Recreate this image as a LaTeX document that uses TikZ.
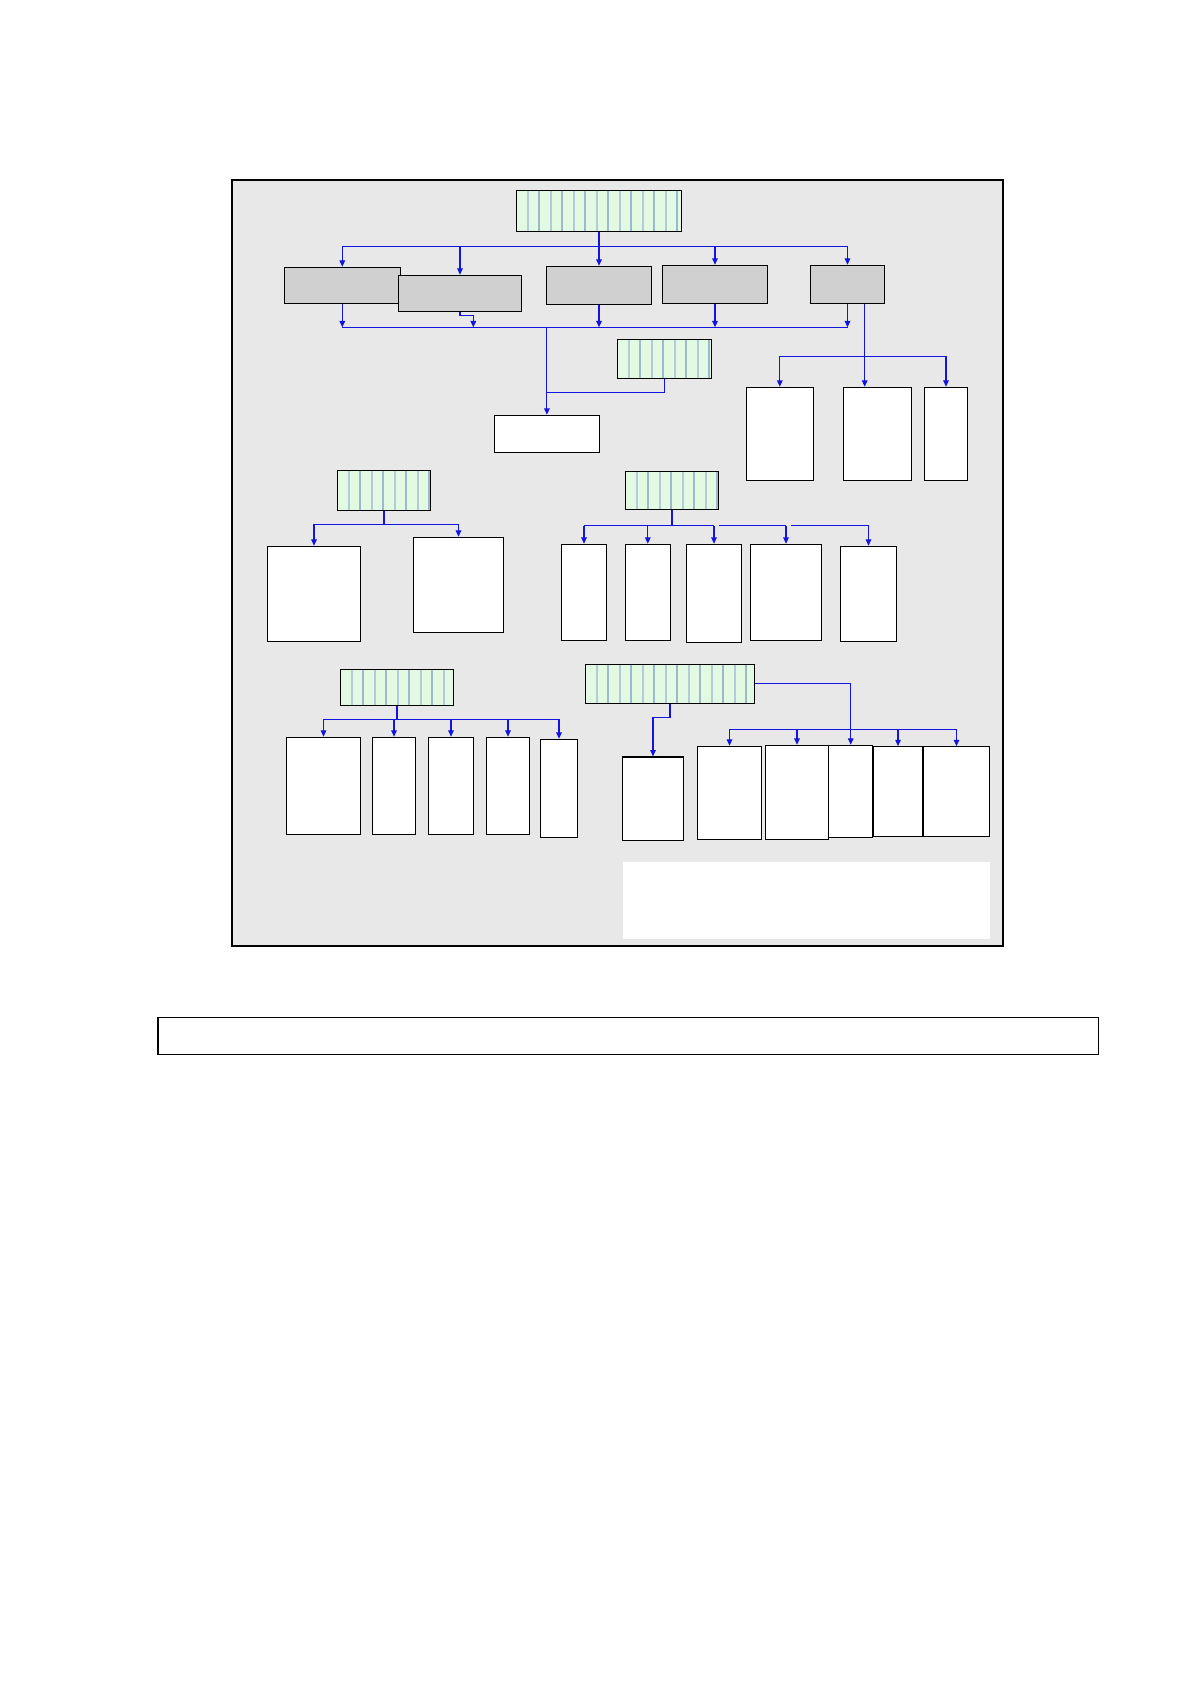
\documentclass[tikz,border=0pt]{standalone}
\usetikzlibrary{arrows.meta,fit,calc}
\definecolor{framebg}{RGB}{232,232,232}
\definecolor{greybx}{RGB}{208,208,208}
\definecolor{greenbx}{RGB}{226,250,226}
\definecolor{stripeA}{RGB}{180,202,218}
\definecolor{stripeB}{RGB}{158,184,208}
\definecolor{connblue}{RGB}{20,20,225}
\tikzset{
  bx/.style={draw=black, line width=0.55pt, inner sep=0pt, fill=white},
  greybox/.style={bx, fill=greybx},
  greenbox/.style={bx, fill=greenbx, path picture={
    \foreach \i in {1,3,...,31}
      \draw[stripeA, line width=0.8pt]
        ([xshift=\i*5.75pt]path picture bounding box.north west) --
        ([xshift=\i*5.75pt]path picture bounding box.south west);
    \foreach \i in {2,4,...,32}
      \draw[stripeB, line width=0.9pt]
        ([xshift=\i*5.75pt]path picture bounding box.north west) --
        ([xshift=\i*5.75pt]path picture bounding box.south west);
  }},
  framebox/.style={draw=black, line width=1.3pt, fill=framebg, inner sep=0pt},
  blank/.style={fill=white, inner sep=0pt},
  conn/.style={draw=connblue, line width=0.55pt},
  arr/.style={conn, -{Triangle[length=3.2pt,width=2.8pt]}},
}
\begin{document}
\begin{tikzpicture}[x=0.5pt,y=-0.5pt]
\useasboundingbox (0,0) rectangle (1191,1684);

% outer frame
\node[framebox, fit={(232,180)(1003,946)}] (frame) {};

% ---- top tree ----
\node[greenbox, fit={(516.3,190.3)(681.7,231.3)}] (T) {};
\node[greybox, fit={(284.3,267.3)(400.3,303.3)}] (A) {};
\node[greybox, fit={(398.3,275.3)(521.7,311.3)}] (B) {};
\node[greybox, fit={(546.3,266.3)(651.7,304.3)}] (C) {};
\node[greybox, fit={(662.3,265.3)(767.7,303.3)}] (D) {};
\node[greybox, fit={(810.3,265.3)(884.7,303.3)}] (E) {};

\coordinate (b1) at (0,246.3);
\coordinate (b2) at (0,327.3);
\draw[conn] (T.south) -- (T.south|-b1);
\draw[conn] (A.north|-b1) -- (E.north|-b1);
\foreach \n in {A,B,C,D,E} \draw[arr] (\n.north|-b1) -- (\n.north);

\draw[conn] (A.south|-b2) -- (E.south|-b2);
\foreach \n in {A,C,D,E} \draw[arr] (\n.south) -- (\n.south|-b2);
\coordinate (bB) at (473.3,327.3);
\draw[arr] (B.south) -- ++(0,4) -| (bB);

% central box G and small green H
\node[greenbox, fit={(617.3,339.3)(711.7,378.3)}] (H) {};
\node[bx, fit={(494.3,415.3)(599.5,452.3)}] (G) {};
\coordinate (hy) at (0,392.3);
\draw[arr] (G.north|-b2) -- (G.north);
\draw[conn] (H.south) |- (G.north|-hy);

% right group F
\node[bx, fit={(746.3,387.3)(813.3,480.3)}] (F1) {};
\node[bx, fit={(843.3,387.3)(911.7,480.3)}] (F2) {};
\node[bx, fit={(924.3,387.3)(967.7,480.3)}] (F3) {};
\coordinate (fb) at (0,356.3);
\path (E.south) ++(17.2,0) coordinate (es);
\draw[arr] (es) -- (es|-F2.north);
\draw[conn] (F1.north|-fb) -- (F3.north|-fb);
\draw[arr] (F1.north|-fb) -- (F1.north);
\draw[arr] (F3.north|-fb) -- (F3.north);

% ---- group I ----
\node[greenbox, fit={(337.3,470.3)(430.7,510.3)}] (I) {};
\node[bx, fit={(267.3,546.3)(360.7,641.3)}] (J1) {};
\node[bx, fit={(413.3,537.3)(503.7,632.3)}] (J2) {};
\coordinate (ib) at (0,524.3);
\draw[conn] (I.south) -- (I.south|-ib);
\draw[conn] (J1.north|-ib) -- (J2.north|-ib);
\draw[arr] (J1.north|-ib) -- (J1.north);
\draw[arr] (J2.north|-ib) -- (J2.north);

% ---- group L ----
\node[greenbox, fit={(625.3,471.3)(718.7,509.3)}] (L) {};
\node[bx, fit={(561.3,544.3)(606.7,640.3)}] (K1) {};
\node[bx, fit={(625.3,544.3)(670.3,640.3)}] (K2) {};
\node[bx, fit={(686.3,544.3)(741.7,642.3)}] (K3) {};
\node[bx, fit={(750.3,544.3)(821.7,640.3)}] (K4) {};
\node[bx, fit={(840.3,546.3)(896.7,641.3)}] (K5) {};
\coordinate (lb) at (0,525.7);
\draw[conn] (L.south) -- (L.south|-lb);
\draw[conn] (K1.north|-lb) -- (K3.north|-lb);
\draw[conn] ($(K3.north|-lb)+(5,0)$) -- (K4.north|-lb);
\draw[conn] ($(K4.north|-lb)+(4.5,0)$) -- (K5.north|-lb);
\foreach \n in {K1,K2,K3,K4,K5} \draw[arr] (\n.north|-lb) -- (\n.north);

% ---- group M ----
\node[greenbox, fit={(340.3,669.3)(453.7,705.3)}] (M) {};
\node[bx, fit={(286.3,737.3)(360.7,834.3)}] (N1) {};
\node[bx, fit={(372.3,737.3)(415.7,834.3)}] (N2) {};
\node[bx, fit={(428.3,737.3)(473.7,834.3)}] (N3) {};
\node[bx, fit={(486.3,737.3)(529.7,834.3)}] (N4) {};
\node[bx, fit={(540.3,739.3)(577.7,837.3)}] (N5) {};
\coordinate (mb) at (0,719.3);
\draw[conn] (M.south) -- (M.south|-mb);
\draw[conn] (N1.north|-mb) -- (N5.north|-mb);
\foreach \n in {N1,N2,N3,N4,N5} \draw[arr] (\n.north|-mb) -- (\n.north);

% ---- group O ----
\node[greenbox, fit={(585.3,664.3)(754.7,703.3)}] (O) {};
\node[bx, fit={(622.3,757)(683.7,840.7)}] (P) {};
\node[bx, fit={(828.7,745.3)(872.7,837.3)}] (Q3) {};
\node[bx, fit={(697.3,746.3)(761.7,839.3)}] (Q1) {};
\node[bx, fit={(765.3,745.3)(828.7,839.3)}] (Q2) {};
\node[bx, fit={(873.3,746.7)(922.7,836.3)}] (Q4) {};
\node[bx, fit={(923.3,746.7)(989.7,836.3)}] (Q5) {};
\coordinate (ob) at (0,729.3);
\draw[arr] (O.south) -- ++(0,14) -| (P.north);
\draw[conn] (Q1.north|-ob) -- (Q5.north|-ob);
\draw[arr] (O.east) -| (Q3.north);
\foreach \n in {Q1,Q2,Q4,Q5} \draw[arr] (\n.north|-ob) -- (\n.north);

% white panel
\node[blank, fit={(623,862)(990,939)}] (panel) {};

% bottom box
\node[bx, fit={(158,1017.3)(1098.7,1054.3)}] (bottom) {};
\end{tikzpicture}
\end{document}
